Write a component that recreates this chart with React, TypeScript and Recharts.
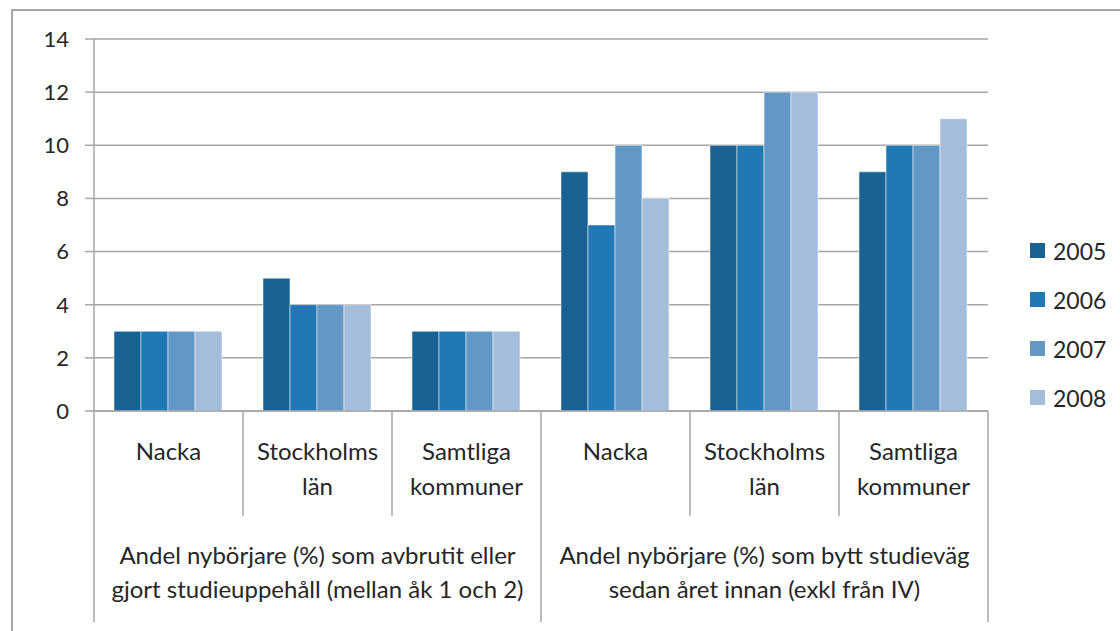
import React from 'react';
import { BarChart, Bar, XAxis, YAxis, CartesianGrid } from 'recharts';

const categories = ['Nacka', 'Stockholms\nlän', 'Samtliga\nkommuner', 'Nacka', 'Stockholms\nlän', 'Samtliga\nkommuner'];
const groupLabels = [
  'Andel nybörjare (%) som avbrutit eller\ngjort studieuppehåll (mellan åk 1 och 2)',
  'Andel nybörjare (%) som bytt studieväg\nsedan året innan (exkl från IV)',
];
const years = ['2005', '2006', '2007', '2008'];
const v2005 = [3, 5, 3, 9, 10, 9];
const v2006 = [3, 4, 3, 7, 10, 10];
const v2007 = [3, 4, 3, 10, 12, 10];
const v2008 = [3, 4, 3, 8, 12, 11];
const yTicks = [0, 2, 4, 6, 8, 10, 12, 14];

const colors = ['#1b6294', '#2078b4', '#6398c6', '#a3bdda'];
const series = [v2005, v2006, v2007, v2008];

const data = categories.map((c, i) => {
  const row: any = { cat: i, label: c };
  years.forEach((y, k) => (row[y] = series[k][i]));
  return row;
});

const FONT = 'Lato, "Liberation Sans", sans-serif';
const W = 1120;
const H = 631;
const PLOT_LEFT = 94;
const PLOT_RIGHT = 988;
const BAND = (PLOT_RIGHT - PLOT_LEFT) / categories.length;
const GRID = '#a6a6a6';
const TEXT = '#262626';

const CategoryTick = ({ x, y, payload, index }: any) => {
  const lines = categories[payload.value].split('\n');
  const groupStart = index % 3 === 0;
  const last = index === categories.length - 1;
  const group = index % 3 === 1 ? groupLabels[Math.floor(index / 3)].split('\n') : null;
  return (
    <g>
      <line x1={x - BAND / 2} x2={x - BAND / 2} y1={y} y2={groupStart ? y + 211 : y + 105} stroke={GRID} strokeWidth={1.5} />
      {last && <line x1={x + BAND / 2} x2={x + BAND / 2} y1={y} y2={y + 211} stroke={GRID} strokeWidth={1.5} />}
      {lines.map((l, i) => (
        <text key={i} x={x} y={y + 49 + i * 35} textAnchor="middle" fontSize={24} fill={TEXT} fontFamily={FONT}>
          {l}
        </text>
      ))}
      {group &&
        group.map((l, i) => (
          <text key={'g' + i} x={x} y={y + 153 + i * 34} textAnchor="middle" fontSize={24} fill={TEXT} fontFamily={FONT}>
            {l}
          </text>
        ))}
    </g>
  );
};

export default function App() {
  return (
    <div style={{ position: 'absolute', left: 0, top: 0, width: W, height: H, background: '#fff', overflow: 'hidden' }}>
      <div
        style={{
          position: 'absolute',
          left: 11,
          top: 9,
          width: W,
          height: H,
          borderTop: `2px solid ${GRID}`,
          borderLeft: `2px solid ${GRID}`,
        }}
      />
      <BarChart
        width={W}
        height={H}
        data={data}
        margin={{ top: 39, right: W - PLOT_RIGHT, left: 14, bottom: 0 }}
        barCategoryGap={20}
        barGap={0}
        style={{ position: 'absolute', left: 0, top: 0 }}
      >
        <CartesianGrid vertical={false} stroke={GRID} strokeWidth={1.5} />
        <XAxis
          dataKey="cat"
          type="category"
          height={H - 411}
          axisLine={{ stroke: GRID, strokeWidth: 1.5 }}
          tickLine={false}
          tickSize={0}
          tickMargin={0}
          interval={0}
          tick={<CategoryTick />}
        />
        <YAxis
          width={80}
          domain={[0, 14]}
          ticks={yTicks}
          interval={0}
          axisLine={{ stroke: GRID, strokeWidth: 1.5 }}
          tickLine={{ stroke: GRID, strokeWidth: 1.5 }}
          tickSize={9}
          tickMargin={16}
          tick={{ fontSize: 22, fill: TEXT, fontFamily: FONT }}
        />
        {years.map((y, i) => (
          <Bar key={y} dataKey={y} fill={colors[i]} stroke="rgba(255,255,255,0.5)" strokeWidth={1} isAnimationActive={false} />
        ))}
      </BarChart>
      <div style={{ position: 'absolute', left: 1030, top: 226, fontFamily: FONT, fontSize: 23, color: TEXT }}>
        {years.map((y, i) => (
          <div key={y} style={{ display: 'flex', alignItems: 'center', height: 49 }}>
            <span style={{ display: 'inline-block', width: 15, height: 15, background: colors[i], marginRight: 8 }} />
            <span>{y}</span>
          </div>
        ))}
      </div>
    </div>
  );
}
